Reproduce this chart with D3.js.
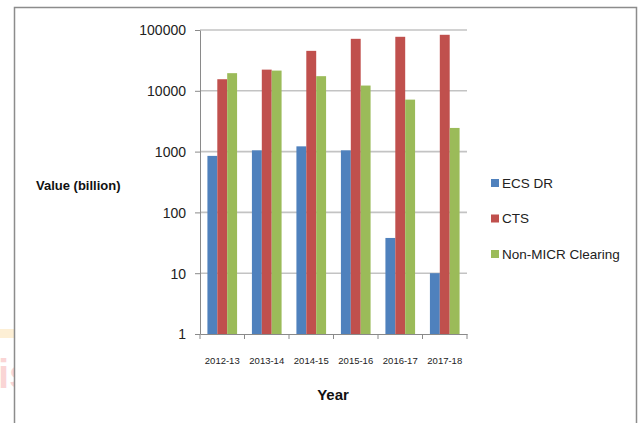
<!DOCTYPE html>
<html>
<head>
<meta charset="utf-8">
<script src="https://cdn.jsdelivr.net/npm/d3@7/dist/d3.min.js"></script>
<style>
  html, body { margin: 0; padding: 0; background: #fff; }
  svg { display: block; font-family: "Liberation Sans", Arial, sans-serif; }
</style>
</head>
<body>
<svg id="chart" width="638" height="423"></svg>
<script>
// Clearing values by year (billion, log scale)
const years = ["2012-13", "2013-14", "2014-15", "2015-16", "2016-17", "2017-18"];
const seriesNames = ["ECS DR", "CTS", "Non-MICR Clearing"];
const ecsDr = [850, 1050, 1220, 1050, 38, 10];
const cts = [15500, 22300, 45400, 71600, 77300, 83400];
const nonMicr = [19500, 21500, 17400, 12200, 7160, 2450];
const yTicks = [1, 10, 100, 1000, 10000, 100000];
const colors = ["#4f81bd", "#c0504d", "#9bbb59"];

const seriesValues = [ecsDr, cts, nonMicr];

const svg = d3.select("#chart");

// faint mark at the far left edge
const wm = svg.append("g").attr("opacity", 0.35);
wm.append("rect").attr("x", 0).attr("y", 329).attr("width", 14).attr("height", 9).attr("fill", "#fbd38a");
wm.append("text").attr("x", -2).attr("y", 388).attr("font-size", 40).attr("font-weight", "bold")
  .attr("fill", "#f28a8a").text("is");
svg.append("rect").attr("x", 14).attr("y", 0).attr("width", 624).attr("height", 423).attr("fill", "#fff");

// outer frame
svg.append("path")
  .attr("d", "M14.5,430 V7.5 H636.5 V430")
  .attr("fill", "none").attr("stroke", "#8c8c8c").attr("stroke-width", 1.5);

const plot = { left: 200, right: 467, top: 30, bottom: 334 };

const x = d3.scaleBand().domain(years).range([plot.left, plot.right]).paddingInner(0).paddingOuter(0);
const barW = x.bandwidth() / 4.5;
const xInner = d3.scaleBand().domain(d3.range(3)).range([barW * 0.75, barW * 3.75]);

const y = d3.scaleLog().domain([1, 100000]).range([plot.bottom, plot.top]);

// gridlines
svg.append("g").selectAll("line").data(yTicks.slice(1)).join("line")
  .attr("x1", plot.left).attr("x2", plot.right)
  .attr("y1", d => y(d)).attr("y2", d => y(d))
  .attr("stroke", "#c3c3c3").attr("stroke-width", 1.6);

// bars
const groups = svg.append("g").selectAll("g").data(years).join("g")
  .attr("transform", d => `translate(${x(d)},0)`);
groups.selectAll("rect").data((d, i) => seriesValues.map((s, k) => ({ k, v: s[i] }))).join("rect")
  .attr("x", d => xInner(d.k))
  .attr("width", xInner.bandwidth())
  .attr("y", d => y(d.v))
  .attr("height", d => y(1) - y(d.v))
  .attr("fill", d => colors[d.k]);

// y axis
const yAxis = d3.axisLeft(y).tickValues(yTicks).tickFormat(d3.format("d")).tickSize(5).tickSizeOuter(0);
const gy = svg.append("g").attr("transform", `translate(${plot.left},0)`).call(yAxis);
gy.select(".domain").attr("stroke", "#8a8a8a");
gy.selectAll(".tick line").attr("stroke", "#8a8a8a");
gy.selectAll(".tick text").attr("font-size", 14).attr("fill", "#222").attr("x", -14).attr("dy", "0.35em");

// x axis
const xAxis = d3.axisBottom(x).tickSize(0).tickSizeOuter(0);
const gx = svg.append("g").attr("transform", `translate(0,${plot.bottom})`).call(xAxis);
gx.select(".domain").attr("stroke", "#8a8a8a");
gx.selectAll(".tick text").attr("font-size", 9.5).attr("fill", "#222").attr("dy", 0).attr("y", 30);
// category boundary ticks
svg.append("g").selectAll("line").data(years.concat(["end"])).join("line")
  .attr("x1", (d, i) => plot.left + i * x.bandwidth())
  .attr("x2", (d, i) => plot.left + i * x.bandwidth())
  .attr("y1", plot.bottom).attr("y2", plot.bottom + 5)
  .attr("stroke", "#8a8a8a");

// axis titles
svg.append("text").attr("x", 333).attr("y", 400).attr("text-anchor", "middle")
  .attr("font-size", 15).attr("font-weight", "bold").attr("fill", "#111").text("Year");
svg.append("text").attr("x", 36).attr("y", 190)
  .attr("font-size", 13).attr("font-weight", "bold").attr("fill", "#111").text("Value (billion)");

// legend
const legend = svg.append("g").selectAll("g").data(seriesNames).join("g")
  .attr("transform", (d, i) => `translate(491,${183 + i * 35.5})`);
legend.append("rect").attr("x", 0).attr("y", -4).attr("width", 8).attr("height", 8)
  .attr("fill", (d, i) => colors[i]);
legend.append("text").attr("x", 11).attr("y", 0).attr("dy", "0.35em")
  .attr("font-size", 13.5).attr("fill", "#222").text(d => d);
</script>
</body>
</html>
